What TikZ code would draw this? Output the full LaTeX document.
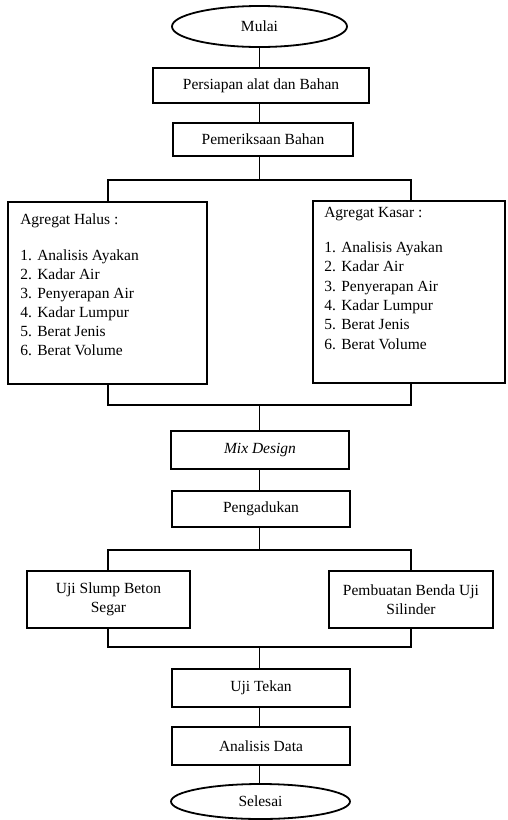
\documentclass[tikz,border=0pt]{standalone}
\usepackage{fontspec}
\setmainfont{Liberation Serif}
\usetikzlibrary{shapes.geometric}
\begin{document}
\begin{tikzpicture}[x=1pt,y=-1pt,
  every node/.style={font=\fontsize{15.5}{19.5}\selectfont},
  term/.style={draw, ellipse, line width=1.8pt, inner sep=0pt},
  proc/.style={draw, rectangle, line width=1.8pt, inner sep=0pt, align=center},
  listtxt/.style={anchor=north west, inner sep=0pt, align=left},
  conn/.style={line width=1.8pt}]
\useasboundingbox[fill=white] (0,0) rectangle (508,820);
% nodes
\node[term, minimum width=175pt, minimum height=41pt] (mulai) at (259.5,26.5) {Mulai};
\node[proc, minimum width=216pt, minimum height=35pt] (persiapan) at (261,85.5) {Persiapan alat dan Bahan};
\node[proc, minimum width=180pt, minimum height=33pt] (periksa) at (263,139.5) {Pemeriksaan Bahan};
\node[proc, minimum width=199pt, minimum height=182pt] (halus) at (107.5,293) {};
\node[proc, minimum width=192pt, minimum height=182pt] (kasar) at (409,292) {};
\node[listtxt, font=\fontsize{15.5}{19}\selectfont] (halustxt) at ([shift={(13,12.8)}]halus.north west) {Agregat Halus :\\[17pt]
\makebox[17pt][l]{1.}Analisis Ayakan\\
\makebox[17pt][l]{2.}Kadar Air\\
\makebox[17pt][l]{3.}Penyerapan Air\\
\makebox[17pt][l]{4.}Kadar Lumpur\\
\makebox[17pt][l]{5.}Berat Jenis\\
\makebox[17pt][l]{6.}Berat Volume};
\node[listtxt, font=\fontsize{15.5}{19.4}\selectfont] (kasartxt) at ([shift={(12,6.8)}]kasar.north west) {Agregat Kasar :\\[15.6pt]
\makebox[17pt][l]{1.}Analisis Ayakan\\
\makebox[17pt][l]{2.}Kadar Air\\
\makebox[17pt][l]{3.}Penyerapan Air\\
\makebox[17pt][l]{4.}Kadar Lumpur\\
\makebox[17pt][l]{5.}Berat Jenis\\
\makebox[17pt][l]{6.}Berat Volume};
\node[proc, minimum width=178pt, minimum height=38pt] (mix) at (260,450) {\textit{Mix Design}};
\node[proc, minimum width=178pt, minimum height=36pt] (aduk) at (261,509) {Pengadukan};
\node[proc, minimum width=163pt, minimum height=57pt] (slump) at (108.5,599.5) {Uji Slump Beton\\Segar};
\node[proc, minimum width=164pt, minimum height=57pt] (silinder) at (411,599.5) {Pembuatan Benda Uji\\Silinder};
\node[proc, minimum width=178pt, minimum height=38pt] (tekan) at (261,688) {Uji Tekan};
\node[proc, minimum width=178pt, minimum height=38pt] (analisis) at (261,746) {Analisis Data};
\node[term, minimum width=179pt, minimum height=35pt] (selesai) at (260.5,801.5) {Selesai};
% connector guide coordinates
\coordinate (spine) at (259.5,0);
\coordinate (jl) at (108,0);
\coordinate (jr) at (411,0);
\coordinate (b1) at (0,180);
\coordinate (m1) at (0,405);
\coordinate (b2) at (0,550);
\coordinate (m2) at (0,647);
% connectors
\draw[conn] (spine |- mulai.south) -- (spine |- persiapan.north);
\draw[conn] (spine |- persiapan.south) -- (spine |- periksa.north);
\draw[conn] (spine |- periksa.south) -- (spine |- b1);
\draw[conn] (jl |- halus.north) -- (jl |- b1) -- (jr |- b1) -- (jr |- kasar.north);
\draw[conn] (jl |- halus.south) -- (jl |- m1) -- (jr |- m1) -- (jr |- kasar.south);
\draw[conn] (spine |- m1) -- (spine |- mix.north);
\draw[conn] (spine |- mix.south) -- (spine |- aduk.north);
\draw[conn] (spine |- aduk.south) -- (spine |- b2);
\draw[conn] (jl |- slump.north) -- (jl |- b2) -- (jr |- b2) -- (jr |- silinder.north);
\draw[conn] (jl |- slump.south) -- (jl |- m2) -- (jr |- m2) -- (jr |- silinder.south);
\draw[conn] (spine |- m2) -- (spine |- tekan.north);
\draw[conn] (spine |- tekan.south) -- (spine |- analisis.north);
\draw[conn] (spine |- analisis.south) -- (spine |- selesai.north);
\end{tikzpicture}
\end{document}
